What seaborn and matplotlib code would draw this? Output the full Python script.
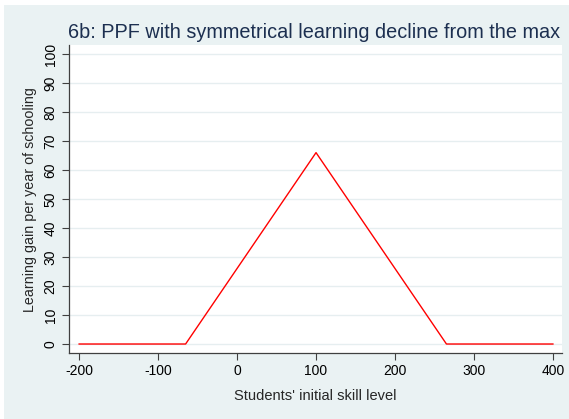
import numpy as np
import pandas as pd
import seaborn as sns
import matplotlib.pyplot as plt
from matplotlib.patches import Rectangle

# Data
skill = [-200, -65, 100, 265, 400]
gain = [0, 0, 66, 0, 0]
x_ticks = [-200, -100, 0, 100, 200, 300, 400]
y_ticks = [0, 10, 20, 30, 40, 50, 60, 70, 80, 90, 100]

df = pd.DataFrame({"skill": skill, "gain": gain})

sns.set_theme(style="white")
plt.rcParams["font.family"] = ["Liberation Sans", "DejaVu Sans"]

bg = "#EAF2F3"
fig = plt.figure(figsize=(5.69, 4.19), dpi=100, facecolor="white")
# light outer region, leaving a thin white strip at top and left
fig.patches.append(Rectangle((4 / 569, 0), 1, 1 - 5 / 419, transform=fig.transFigure,
                             facecolor=bg, edgecolor="none", zorder=-1))

ax = fig.add_axes([0.121, 0.1575, 0.867, 0.735])
ax.set_facecolor("white")

# Gridlines
for y in y_ticks:
    ax.axhline(y, color="#E6EEF0", linewidth=1.0, zorder=0)

sns.lineplot(data=df, x="skill", y="gain", color="red", linewidth=1.0, ax=ax, sort=False)

ax.set_xlim(-212.7, 411.4)
ax.set_ylim(-3.1, 103.1)
ax.set_xticks(x_ticks)
ax.set_yticks(y_ticks)
ax.set_xticklabels([str(t) for t in x_ticks], fontsize=10, color="black")
ax.set_yticklabels([str(t) for t in y_ticks], fontsize=10, color="black", rotation=90, va="center")
ax.tick_params(axis="both", direction="out", length=5, width=0.8, color="#404040", pad=3,
               bottom=True, left=True)

for s in ["top", "right"]:
    ax.spines[s].set_visible(False)
for s in ["left", "bottom"]:
    ax.spines[s].set_color("#404040")
    ax.spines[s].set_linewidth(0.9)

ax.set_xlabel("")
ax.set_ylabel("")
fig.text(315 / 569, 1 - 396 / 419, "Students' initial skill level", fontsize=10.5, ha="center", va="center")
fig.text(30 / 569, 1 - 200 / 419, "Learning gain per year of schooling", fontsize=10.3,
         rotation=90, ha="center", va="center")
fig.text(68 / 569, 1 - 33 / 419, "6b: PPF with symmetrical learning decline from the max",
         fontsize=14.3, color="#1C2F50", ha="left", va="center")

fig.savefig("out.png", dpi=100, facecolor="white")
